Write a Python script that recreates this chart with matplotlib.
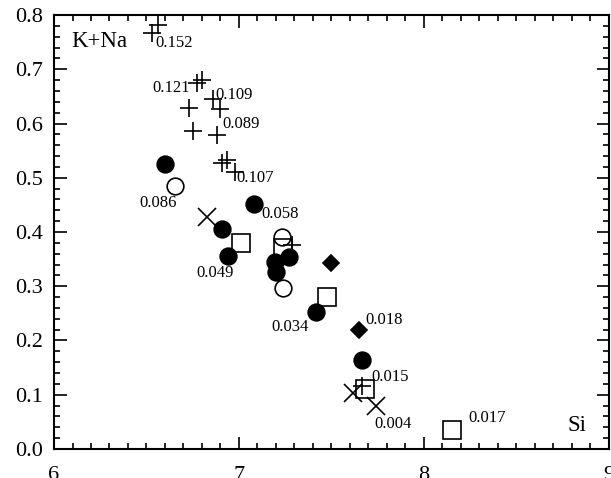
import matplotlib
matplotlib.use('Agg')
import matplotlib.pyplot as plt
from matplotlib.ticker import MultipleLocator

plt.rcParams['font.family'] = ['Liberation Serif', 'DejaVu Serif']

# filled circles
dot_x = [6.60, 7.083, 6.91, 6.942, 7.272, 7.195, 7.20, 7.414, 7.663]
dot_y = [0.525, 0.451, 0.405, 0.356, 0.354, 0.345, 0.327, 0.253, 0.164]
# open circles
ring_x = [6.654, 7.231, 7.24]
ring_y = [0.485, 0.391, 0.296]
# open squares
sq_x = [7.011, 7.24, 7.474, 7.681, 8.153]
sq_y = [0.379, 0.370, 0.281, 0.110, 0.035]
# filled diamonds
dia_x = [7.50, 7.65]
dia_y = [0.342, 0.219]
# crosses
cross_x = [6.829, 7.618, 7.74]
cross_y = [0.428, 0.103, 0.079]
# plus signs
plus_x = [6.528, 6.564, 6.775, 6.802, 6.731, 6.861, 6.897, 6.75, 6.88,
          6.906, 6.934, 6.978, 7.285, 7.663]
plus_y = [0.766, 0.782, 0.674, 0.680, 0.629, 0.646, 0.627, 0.586, 0.579,
          0.527, 0.533, 0.511, 0.376, 0.116]

# value labels: text, x, y, alignment
lab_text = ['0.152', '0.121', '0.109', '0.089', '0.107', '0.086', '0.058',
            '0.049', '0.034', '0.018', '0.015', '0.004', '0.017']
lab_x = [6.546, 6.735, 6.87, 6.908, 6.987, 6.459, 7.124,
         6.771, 7.177, 7.681, 7.717, 7.735, 8.238]
lab_y = [0.749, 0.665, 0.653, 0.600, 0.500, 0.453, 0.433,
         0.325, 0.225, 0.238, 0.133, 0.046, 0.057]
lab_ha = ['left', 'right', 'left', 'left', 'left', 'left', 'left',
          'left', 'left', 'left', 'left', 'left', 'left']

fig = plt.figure(figsize=(6.11, 4.78), dpi=100)
ax = fig.add_axes([0.0884, 0.0607, 0.908, 0.9079])

ax.plot(dot_x, dot_y, 'o', ms=12, mfc='black', mec='black', mew=1.2)
ax.plot(ring_x, ring_y, 'o', ms=12, mfc='white', mec='black', mew=1.2)
ax.plot(sq_x, sq_y, 's', ms=13, mfc='none', mec='black', mew=1.2)
ax.plot(dia_x, dia_y, 'D', ms=8, mfc='black', mec='black', mew=1.2)
ax.plot(cross_x, cross_y, 'x', ms=13, mec='black', mew=1.2)
ax.plot(plus_x, plus_y, '+', ms=13, mec='black', mew=1.2)

for t, x, y, ha in zip(lab_text, lab_x, lab_y, lab_ha):
    ax.text(x, y, t, ha=ha, va='center', fontsize=12)

ax.text(6.096, 0.751, 'K+Na', ha='left', va='center', fontsize=16.5)
ax.text(8.778, 0.044, 'Si', ha='left', va='center', fontsize=16.5)

ax.set_xlim(6, 9)
ax.set_ylim(0, 0.8)
ax.xaxis.set_major_locator(MultipleLocator(1))
ax.xaxis.set_minor_locator(MultipleLocator(0.1))
ax.yaxis.set_major_locator(MultipleLocator(0.1))
ax.yaxis.set_minor_locator(MultipleLocator(0.02))
ax.yaxis.set_major_formatter(matplotlib.ticker.FormatStrFormatter('%.1f'))

ax.tick_params(which='both', direction='in', top=True, right=True, width=1.2)
ax.tick_params(which='major', length=9, labelsize=16)
ax.tick_params(axis='x', which='major', pad=12)
ax.tick_params(axis='y', which='major', pad=8)
ax.tick_params(which='minor', length=4.5)
for s in ax.spines.values():
    s.set_linewidth(1.5)

plt.savefig('out.png', dpi=100)
